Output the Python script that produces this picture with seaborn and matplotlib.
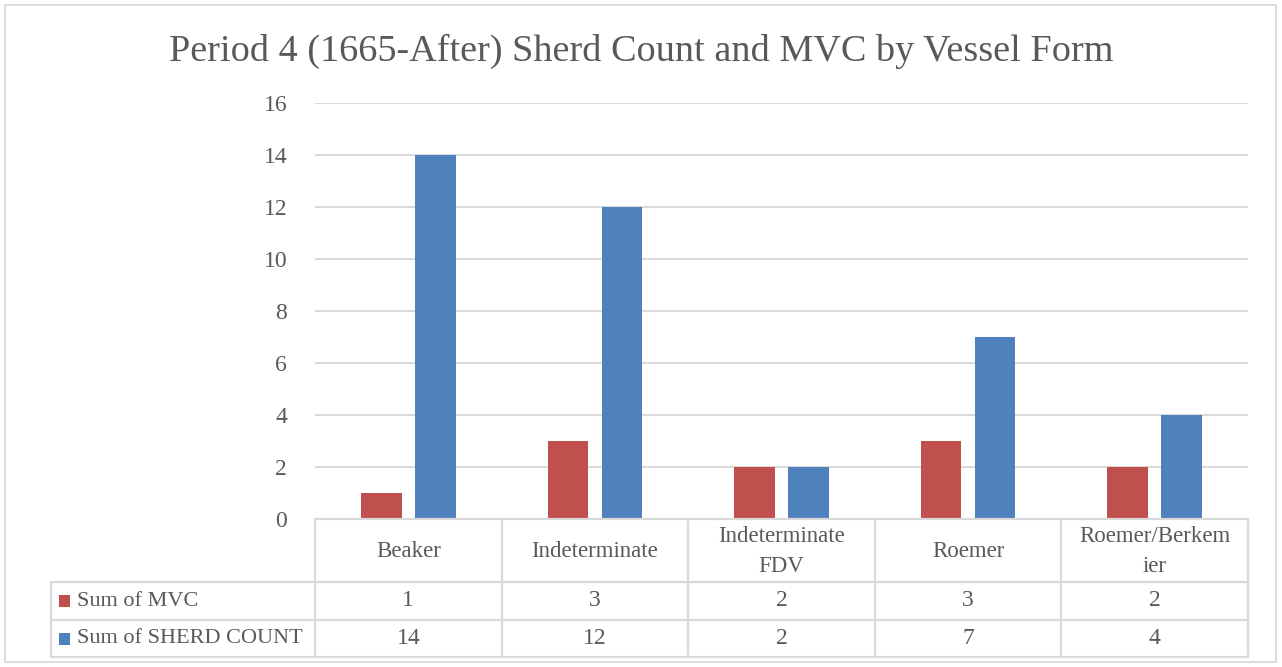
import pandas as pd
import matplotlib.pyplot as plt
import seaborn as sns
from matplotlib.lines import Line2D
from matplotlib.patches import Rectangle
import matplotlib.transforms as mtransforms

# 数据
categories = ['Beaker', 'Indeterminate', 'Indeterminate FDV', 'Roemer', 'Roemer/Berkemier']
category_labels = ['Beaker', 'Indeterminate', 'Indeterminate\nFDV', 'Roemer', 'Roemer/Berkem\nier']
series_names = ['Sum of MVC', 'Sum of SHERD COUNT']
mvc = [1, 3, 2, 3, 2]
sherd_count = [14, 12, 2, 7, 4]
colors = ['#C0504D', '#4F81BD']

df = pd.DataFrame({
    'form': categories * 2,
    'series': [series_names[0]] * len(categories) + [series_names[1]] * len(categories),
    'value': mvc + sherd_count,
})

sns.set_theme(style='white')
plt.rcParams['font.family'] = ['Liberation Serif', 'DejaVu Serif']
text_color = '#595959'
grid_color = '#D9D9D9'
fs = 16

W, H = 1282, 667
fig = plt.figure(figsize=(W / 100, H / 100), dpi=100)


def fx(px):
    return px / W


def fy(py):
    return 1 - py / H


ax = fig.add_axes([fx(315), fy(519), fx(1248) - fx(315), fy(103) - fy(519)])
sns.barplot(data=df, x='form', y='value', hue='series', palette=colors,
            width=0.58, gap=0.25, ax=ax, legend=False, saturation=1, linewidth=0)

ax.set_ylim(0, 16)
ax.set_xlim(-0.5, len(categories) - 0.5)
ax.set_yticks(range(0, 17, 2))
ax.yaxis.grid(True, color=grid_color, linewidth=1.4)
ax.set_axisbelow(True)
for s in ax.spines.values():
    s.set_visible(False)
ax.set_xticks([])
ax.set_xlabel('')
ax.set_ylabel('')
ax.tick_params(axis='y', length=0, pad=20, labelsize=fs + 1, labelcolor=text_color)

# 外框
fig.patches.append(Rectangle((fx(5), fy(662)), fx(1276) - fx(5), fy(5) - fy(662),
                             transform=fig.transFigure, fill=False,
                             edgecolor=grid_color, linewidth=1.3))

# 标题
fig.text(0.5, fy(51), 'Period 4 (1665-After) Sherd Count and MVC by Vessel Form',
         ha='center', va='center', fontsize=27.5, color=text_color)

# 数据表
trans = mtransforms.blended_transform_factory(ax.transData, fig.transFigure)
n = len(categories)
y_top, y_r1, y_r2, y_bot = 519, 582, 620, 657
left_px = 51

for yy, x0 in [(y_top, 315), (y_r1, left_px), (y_r2, left_px), (y_bot, left_px)]:
    fig.lines.append(Line2D([fx(x0), fx(1248)], [fy(yy), fy(yy)], transform=fig.transFigure,
                            color=grid_color, linewidth=1.6))
for i in range(n + 1):
    ax.add_line(Line2D([i - 0.5, i - 0.5], [fy(y_top), fy(y_bot)], transform=trans,
                       color=grid_color, linewidth=1.6, clip_on=False))
fig.lines.append(Line2D([fx(left_px), fx(left_px)], [fy(y_r1), fy(y_bot)], transform=fig.transFigure,
                        color=grid_color, linewidth=1.6))

for i, lab in enumerate(category_labels):
    ax.text(i, fy((y_top + y_r1) / 2 + 1), lab, transform=trans, ha='center', va='center',
            fontsize=fs + 0.5, color=text_color, linespacing=1.5, clip_on=False)
    ax.text(i, fy((y_r1 + y_r2) / 2), str(mvc[i]), transform=trans, ha='center', va='center',
            fontsize=fs + 1, color=text_color, clip_on=False)
    ax.text(i, fy((y_r2 + y_bot) / 2), str(sherd_count[i]), transform=trans, ha='center', va='center',
            fontsize=fs + 1, color=text_color, clip_on=False)

for (yy0, yy1), name, c in zip([(y_r1, y_r2), (y_r2, y_bot)], series_names, colors):
    yc = (yy0 + yy1) / 2
    fig.patches.append(Rectangle((fx(59), fy(yc + 6)), fx(11), fy(yc - 6) - fy(yc + 6),
                                 transform=fig.transFigure, facecolor=c, edgecolor='none'))
    fig.text(fx(77), fy(yc), name, ha='left', va='center', fontsize=fs, color=text_color)

plt.savefig('out.png', dpi=100)
plt.close()
